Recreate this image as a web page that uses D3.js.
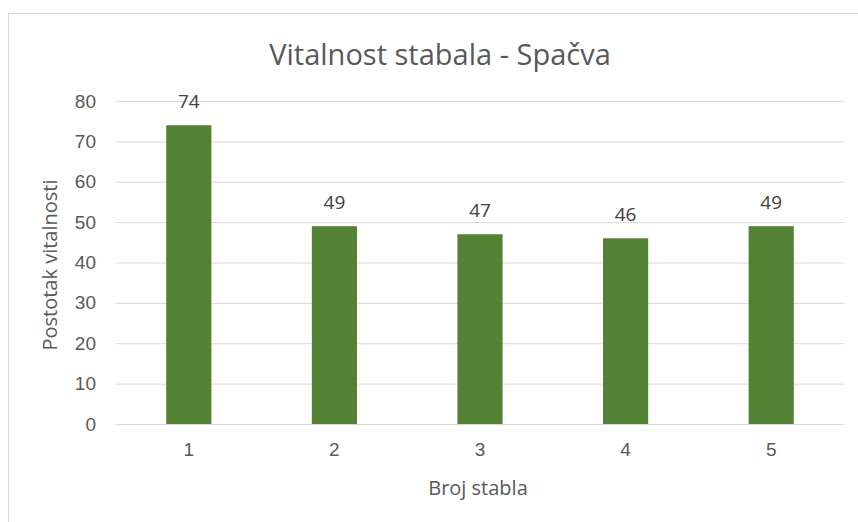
<!DOCTYPE html>
<html>
<head>
<meta charset="utf-8">
<script src="https://cdn.jsdelivr.net/npm/d3@7"></script>
<style>
  body { margin: 0; background: #fff; }
  svg { font-family: "Open Sans", sans-serif; }
</style>
</head>
<body>
<svg id="chart" width="858" height="522"></svg>
<script>
const categories = ['1', '2', '3', '4', '5'];
const values = [74, 49, 47, 46, 49];
const yTicks = [0, 10, 20, 30, 40, 50, 60, 70, 80];
const title = 'Vitalnost stabala - Spačva';
const xTitle = 'Broj stabla';
const yTitle = 'Postotak vitalnosti';

const svg = d3.select('#chart');
const margin = { top: 101, right: 14, bottom: 98, left: 116 };
const width = +svg.attr('width') - margin.left - margin.right;
const height = +svg.attr('height') - margin.top - margin.bottom;

// outer chart border
svg.append('rect')
    .attr('x', 8.5).attr('y', 13.5)
    .attr('width', 860).attr('height', 520)
    .attr('fill', 'none')
    .attr('stroke', '#d9d9d9');

const g = svg.append('g').attr('transform', `translate(${margin.left},${margin.top})`);

const x = d3.scaleBand().domain(categories).range([0, width]).paddingInner(0.69).paddingOuter(0.345);
const y = d3.scaleLinear().domain([0, 80]).range([height, 0]);

// gridlines + y labels
const yAxis = g.append('g')
    .call(d3.axisLeft(y).tickValues(yTicks).tickSize(-width).tickPadding(20));
yAxis.select('.domain').remove();
yAxis.selectAll('.tick line').attr('stroke', '#d9d9d9');
yAxis.selectAll('.tick text').attr('fill', '#595959').style('font-size', '19px');

g.selectAll('.bar')
    .data(values)
    .join('rect')
    .attr('class', 'bar')
    .attr('x', (d, i) => x(categories[i]))
    .attr('y', d => y(d))
    .attr('width', x.bandwidth())
    .attr('height', d => height - y(d))
    .attr('fill', '#548235');

g.selectAll('.lbl')
    .data(values)
    .join('text')
    .attr('class', 'lbl')
    .attr('x', (d, i) => x(categories[i]) + x.bandwidth() / 2)
    .attr('y', d => y(d) - 17)
    .attr('text-anchor', 'middle')
    .attr('fill', '#404040')
    .style('font-size', '19px')
    .text(d => d);

const xAxis = g.append('g')
    .attr('transform', `translate(0,${height})`)
    .call(d3.axisBottom(x).tickSize(0).tickPadding(19));
xAxis.select('.domain').attr('stroke', '#d9d9d9');
xAxis.selectAll('.tick text').attr('fill', '#595959').style('font-size', '19px');

svg.append('text')
    .attr('x', 440).attr('y', 65)
    .attr('text-anchor', 'middle')
    .attr('fill', '#595959')
    .style('font-size', '29px')
    .text(title);

svg.append('text')
    .attr('x', 478).attr('y', 495)
    .attr('text-anchor', 'middle')
    .attr('fill', '#595959')
    .style('font-size', '20px')
    .text(xTitle);

svg.append('text')
    .attr('transform', `translate(57,265) rotate(-90)`)
    .attr('text-anchor', 'middle')
    .attr('fill', '#595959')
    .style('font-size', '20px')
    .text(yTitle);
</script>
</body>
</html>
